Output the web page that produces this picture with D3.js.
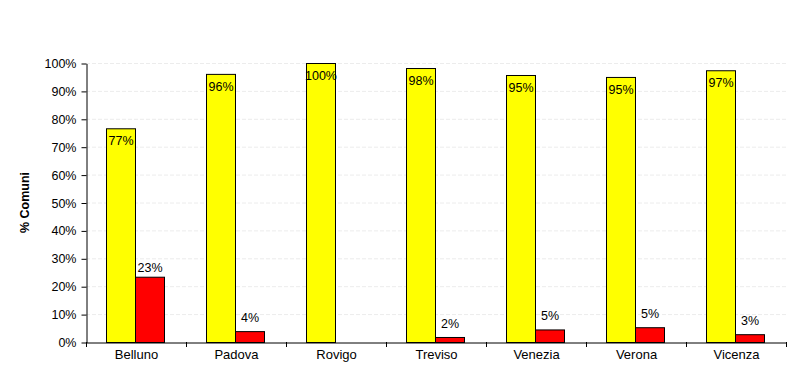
<!DOCTYPE html>
<html><head><meta charset="utf-8">
<script src="https://cdn.jsdelivr.net/npm/d3@7"></script>
<style>body{margin:0;background:#fff}svg{display:block}text{font-family:"Liberation Sans",Arial,sans-serif}</style>
</head><body><svg id="c" width="796" height="368"></svg>
<script>
const categories = ["Belluno","Padova","Rovigo","Treviso","Venezia","Verona","Vicenza"];
const yellowValues = [76.6, 96.1, 100, 98.2, 95.7, 95.0, 97.4];
const redValues = [23.4, 3.9, 0, 1.8, 4.5, 5.3, 2.8];
const yellowLabels = ["77%","96%","100%","98%","95%","95%","97%"];
const redLabels = ["23%","4%","","2%","5%","5%","3%"];
const yTicks = [0,10,20,30,40,50,60,70,80,90,100];

const svg = d3.select("#c");
const m = {l:86, r:786, t:63, b:342};
const x = d3.scaleBand().domain(categories).range([m.l, m.r]);
const y = d3.scaleLinear().domain([0,100]).range([m.b, m.t]);
const bw = 29, off = 20;

// grid
svg.append("g").selectAll("line").data(yTicks.filter(d=>d>0)).join("line")
  .attr("x1", m.l).attr("x2", m.r).attr("y1", d=>y(d)+0.5).attr("y2", d=>y(d)+0.5)
  .attr("stroke", "#ececec").attr("stroke-dasharray", "4,2");

// bars
svg.append("g").selectAll("rect").data(categories).join("rect")
  .attr("x", d=>x(d)+off+0.5).attr("y", (d,i)=>y(yellowValues[i])+0.5)
  .attr("width", bw).attr("height", (d,i)=>y(0)-y(yellowValues[i]))
  .attr("fill", "#ffff00").attr("stroke", "#000").attr("stroke-width", 1);
svg.append("g").selectAll("rect").data(categories.filter((d,i)=>redValues[i]>0)).join("rect")
  .attr("x", d=>x(d)+off+bw+0.5).attr("y", d=>y(redValues[categories.indexOf(d)])+0.5)
  .attr("width", bw).attr("height", d=>y(0)-y(redValues[categories.indexOf(d)]))
  .attr("fill", "#ff0000").attr("stroke", "#000").attr("stroke-width", 1);

// labels
svg.append("g").selectAll("text").data(categories).join("text")
  .attr("x", d=>x(d)+off+bw/2+0.5).attr("y", (d,i)=>y(yellowValues[i])+17)
  .attr("text-anchor","middle").attr("font-size", 12.5).attr("fill","#000")
  .text((d,i)=>yellowLabels[i]);
svg.append("g").selectAll("text").data(categories).join("text")
  .attr("x", d=>x(d)+off+bw*1.5+0.5).attr("y", (d,i)=>y(redValues[i])-(redValues[i]>10?5:9))
  .attr("text-anchor","middle").attr("font-size", 12.5).attr("fill","#000")
  .text((d,i)=>redLabels[i]);

// axes
const ya = svg.append("g").attr("transform", `translate(${m.l+0.5},0.5)`)
  .call(d3.axisLeft(y).tickValues(yTicks).tickFormat(d=>d+"%").tickSize(5).tickSizeOuter(0));
ya.select(".domain").attr("stroke","#000");
ya.selectAll("text").attr("font-size",12.5).attr("font-family","Liberation Sans, Arial, sans-serif").attr("fill","#000").attr("dx","-2");
const xa = svg.append("g").attr("transform", `translate(0.5,${m.b+0.5})`)
  .call(d3.axisBottom(x).tickSize(0).tickSizeOuter(0));
xa.select(".domain").attr("stroke","#000");
xa.selectAll("text").attr("font-size",13).attr("font-family","Liberation Sans, Arial, sans-serif").attr("fill","#000").attr("dy","1.05em");
svg.append("g").selectAll("line").data(categories).join("line")
  .attr("x1", d=>x(d)+x.bandwidth()+0.5).attr("x2", d=>x(d)+x.bandwidth()+0.5)
  .attr("y1", m.b).attr("y2", m.b+5).attr("stroke","#000");
svg.append("line").attr("x1",m.l+0.5).attr("x2",m.l+0.5).attr("y1",m.b).attr("y2",m.b+5).attr("stroke","#000");

svg.append("text").attr("transform", `translate(29,${(m.t+m.b)/2}) rotate(-90)`)
  .attr("text-anchor","middle").attr("font-size",12.5).attr("font-weight","bold").text("% Comuni");
</script></body></html>
